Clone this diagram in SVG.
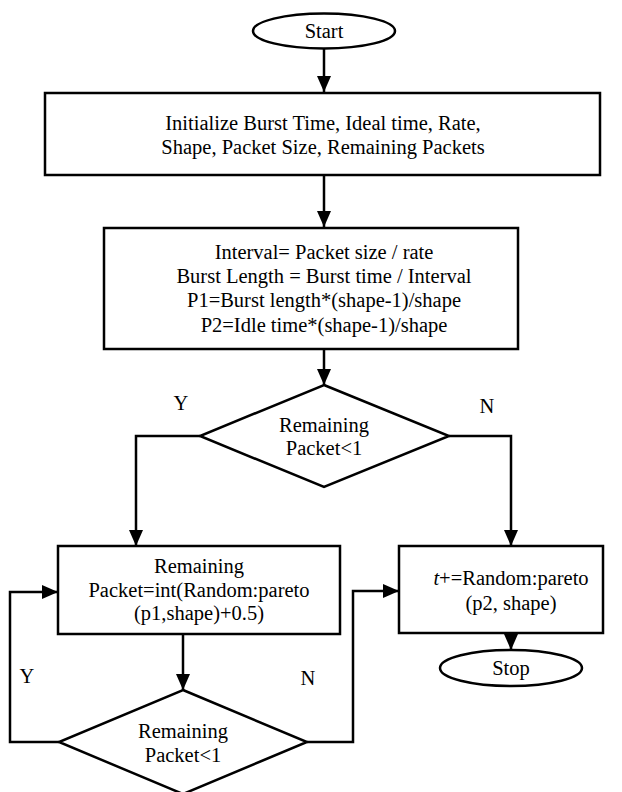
<svg xmlns="http://www.w3.org/2000/svg" width="622" height="792" viewBox="0 0 622 792">
  <style>
    .shape { fill: #ffffff; stroke: #000000; stroke-width: 2.5; }
    .wire { fill: none; stroke: #000000; stroke-width: 2.5; }
    .t { font-family: 'Liberation Serif', 'DejaVu Serif', serif; font-size: 20.5px; fill: #000000; text-anchor: middle; }
  </style>
  <defs>
    <marker id="arrow" markerUnits="userSpaceOnUse" markerWidth="16" markerHeight="14" refX="16" refY="7" orient="auto">
      <path d="M0,0 L16,7 L0,14 Z" fill="#000000"/>
    </marker>
  </defs>

  <rect width="622" height="792" fill="#ffffff"/>

  <!-- connectors and branch labels -->
  <g id="connectors">
    <path class="wire" d="M324,49 V92" marker-end="url(#arrow)"/>
    <path class="wire" d="M324,176 V227" marker-end="url(#arrow)"/>
    <path class="wire" d="M324,350 V385" marker-end="url(#arrow)"/>
    <path class="wire" d="M200,436 H136 V546" marker-end="url(#arrow)"/>
    <path class="wire" d="M449,436 H511 V546" marker-end="url(#arrow)"/>
    <path class="wire" d="M183,634 V690" marker-end="url(#arrow)"/>
    <path class="wire" d="M511,633 V650" marker-end="url(#arrow)"/>
    <path class="wire" d="M59,742 H10 V592 H58" marker-end="url(#arrow)"/>
    <path class="wire" d="M307,742 H353 V591 H399" marker-end="url(#arrow)"/>
    <text class="t" font-family="Liberation Serif, DejaVu Serif, serif" x="181" y="410">Y</text>
    <text class="t" font-family="Liberation Serif, DejaVu Serif, serif" x="487" y="413">N</text>
    <text class="t" font-family="Liberation Serif, DejaVu Serif, serif" x="27" y="683">Y</text>
    <text class="t" font-family="Liberation Serif, DejaVu Serif, serif" x="308" y="685">N</text>
  </g>

  <g id="start">
    <ellipse class="shape" cx="324" cy="31" rx="71" ry="17.5"/>
    <text class="t" x="324" y="38">Start</text>
  </g>

  <g id="init">
    <rect class="shape" x="45" y="93" width="555" height="82"/>
    <text class="t" x="323" y="130">Initialize Burst Time, Ideal time, Rate,</text>
    <text class="t" x="323" y="154">Shape, Packet Size, Remaining Packets</text>
  </g>

  <g id="params">
    <rect class="shape" x="104" y="228" width="414" height="121"/>
    <text class="t" x="324" y="259">Interval= Packet size / rate</text>
    <text class="t" x="324" y="283">Burst Length = Burst time / Interval</text>
    <text class="t" x="324" y="307">P1=Burst length*(shape-1)/shape</text>
    <text class="t" x="324" y="332">P2=Idle time*(shape-1)/shape</text>
  </g>

  <g id="check1">
    <polygon class="shape" points="324,385 449,436 324,487 200,436"/>
    <text class="t" x="324" y="432">Remaining</text>
    <text class="t" x="324" y="455">Packet&lt;1</text>
  </g>

  <g id="burst">
    <rect class="shape" x="58" y="546" width="282" height="88"/>
    <text class="t" x="199" y="573">Remaining</text>
    <text class="t" x="199" y="597">Packet=int(Random:pareto</text>
    <text class="t" x="199" y="620">(p1,shape)+0.5)</text>
  </g>

  <g id="idle">
    <rect class="shape" x="399" y="546" width="204" height="87"/>
    <text class="t" x="511" y="585"><tspan font-style="italic">t</tspan>+=Random:pareto</text>
    <text class="t" x="511" y="610">(p2, shape)</text>
  </g>

  <g id="check2">
    <polygon class="shape" points="183,690 307,742 183,794 59,742"/>
    <text class="t" x="183" y="738">Remaining</text>
    <text class="t" x="183" y="762">Packet&lt;1</text>
  </g>

  <g id="stop">
    <ellipse class="shape" cx="511" cy="668" rx="71" ry="18"/>
    <text class="t" x="511" y="675">Stop</text>
  </g>
</svg>
